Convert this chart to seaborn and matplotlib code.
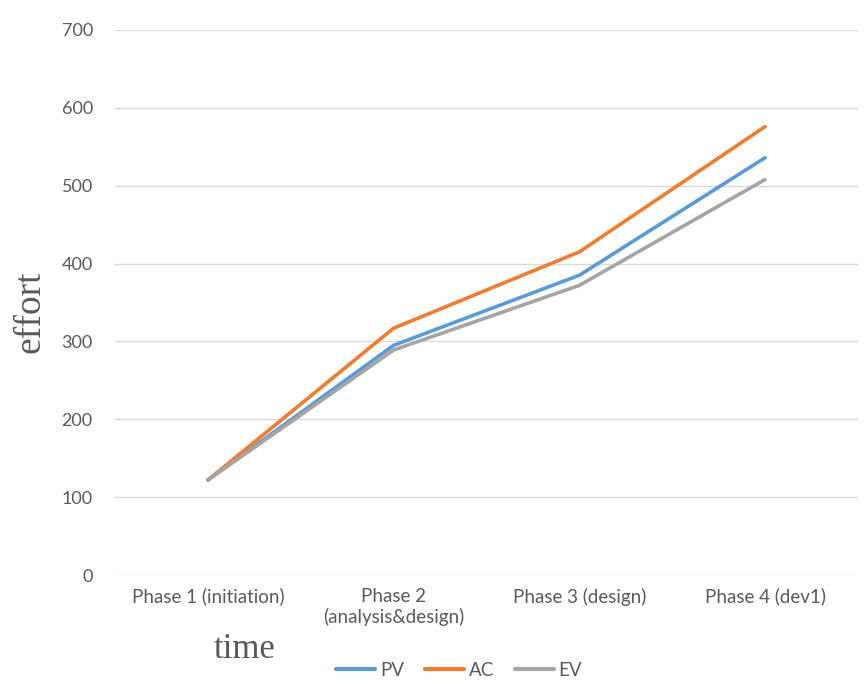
import matplotlib
matplotlib.use("Agg")
import matplotlib.pyplot as plt
import seaborn as sns
import pandas as pd

phases = ["Phase 1 (initiation)", "Phase 2\n(analysis&design)", "Phase 3 (design)", "Phase 4 (dev1)"]
pv = [122, 295, 385, 536]
ac = [122, 317, 415, 576]
ev = [122, 289, 372, 508]
series_names = ["PV", "AC", "EV"]
y_ticks = [0, 100, 200, 300, 400, 500, 600, 700]

palette = {"PV": "#5B9BD5", "AC": "#ED7D31", "EV": "#A5A5A5"}

rows = []
for name, vals in zip(series_names, [pv, ac, ev]):
    for i, v in enumerate(vals):
        rows.append({"pos": i, "effort": v, "series": name})
df = pd.DataFrame(rows)

sns.set_theme(style="white")
plt.rcParams["font.family"] = ["Lato", "DejaVu Sans"]

fig = plt.figure(figsize=(8.64, 6.92), dpi=100)
ax = fig.add_axes([115 / 864, 1 - 575 / 692, 743 / 864, 545 / 692])

sns.lineplot(data=df, x="pos", y="effort", hue="series", hue_order=series_names,
             palette=palette, linewidth=2.6, ax=ax, legend=False,
             solid_capstyle="round")

ax.set_xlim(-0.5, 3.5)
ax.set_ylim(0, 700)
ax.set_yticks(y_ticks)
ax.set_yticklabels([str(t) for t in y_ticks], color="#595959", fontsize=13)
ax.set_xticks(range(len(phases)))
ax.set_xticklabels(phases, color="#595959", fontsize=13.5, linespacing=1.25)
ax.tick_params(axis="y", length=0, pad=16)
ax.tick_params(axis="x", length=0, pad=9)
ax.yaxis.grid(True, color="#D9D9D9", linewidth=1)
ax.set_axisbelow(True)
for s in ax.spines.values():
    s.set_visible(False)
ax.set_xlabel("")
ax.set_ylabel("")

fig.text(30 / 864, 1 - 312 / 692, "effort", rotation=90, ha="center", va="center",
         fontsize=27, color="#595959", family=["Liberation Serif", "DejaVu Serif"])
fig.text(245 / 864, 1 - 650 / 692, "time", ha="center", va="center",
         fontsize=25, color="#595959", family=["Liberation Serif", "DejaVu Serif"])

handles = [plt.Line2D([], [], color=palette[n], linewidth=3) for n in series_names]
fig.legend(handles, series_names, loc="center", bbox_to_anchor=(459 / 864, 1 - 670 / 692),
           ncol=3, frameon=False, fontsize=13.5, handlelength=2.1, columnspacing=1.1,
           handletextpad=0.25, labelcolor="#595959")

fig.savefig("out.png", dpi=100, facecolor="white")
